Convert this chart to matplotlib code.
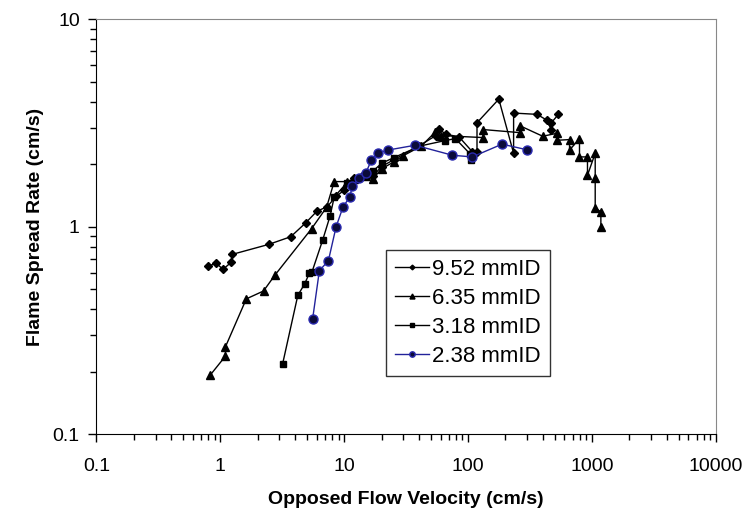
import numpy as np
import matplotlib.pyplot as plt
from matplotlib.ticker import LogLocator, NullFormatter, FixedLocator, FixedFormatter

plt.rcParams['font.family'] = ['Liberation Sans', 'DejaVu Sans']

# 9.52 mmID (diamonds)
v952 = [0.80, 0.93, 1.05, 1.22, 1.25, 2.46, 3.7, 4.9, 6.0, 7.3, 8.6, 10.0, 12.0, 14.5,
        17.0, 20.0, 25.0, 40.0, 55.0, 58.0, 66.0, 85.0, 108.0, 118.0, 118.0, 177.0,
        233.0, 233.0, 360.0, 430.0, 470.0, 470.0, 536.0]
s952 = [0.647, 0.666, 0.623, 0.673, 0.736, 0.822, 0.895, 1.045, 1.186, 1.25, 1.40, 1.50,
        1.72, 1.80, 1.75, 1.95, 2.10, 2.45, 2.75, 2.95, 2.80, 2.70, 2.30, 2.30, 3.17, 4.12,
        2.26, 3.53, 3.48, 3.27, 2.94, 3.17, 3.48]

# 6.35 mmID (triangles)
v635 = [0.83, 1.10, 1.10, 1.62, 2.23, 2.76, 5.46, 7.2, 8.3, 10.5, 12.0, 15.0, 17.0, 20.0,
        25.0, 30.0, 42.0, 54.0, 60.0, 132.0, 132.0, 264.0, 264.0, 400.0, 522.0, 522.0,
        659.0, 659.0, 793.0, 793.0, 920.0, 920.0, 1062.0, 1062.0, 1062.0, 1180.0, 1180.0]
s635 = [0.193, 0.238, 0.264, 0.449, 0.49, 0.585, 0.98, 1.24, 1.65, 1.65, 1.70, 1.75, 1.70,
        1.90, 2.05, 2.20, 2.45, 2.85, 2.75, 2.69, 2.94, 2.84, 3.06, 2.73, 2.82, 2.61, 2.63,
        2.34, 2.66, 2.17, 2.17, 1.77, 2.26, 1.71, 1.23, 1.18, 1.00]

# 3.18 mmID (squares)
v318 = [3.18, 4.22, 4.79, 5.23, 5.5, 6.7, 7.7, 8.3, 10.5, 12.5, 15.0, 17.0, 20.0, 25.0,
        41.0, 65.0, 79.0, 104.0, 106.0]
s318 = [0.218, 0.467, 0.53, 0.597, 0.607, 0.863, 1.13, 1.39, 1.63, 1.70, 1.80, 1.85, 2.02,
        2.15, 2.45, 2.60, 2.66, 2.24, 2.10]

# 2.38 mmID (circles)
v238 = [5.56, 6.3, 7.45, 8.6, 9.8, 11.1, 11.6, 13.1, 14.9, 16.6, 18.7, 22.4, 37.4, 74.8,
        108.0, 188.0, 298.0]
s238 = [0.36, 0.614, 0.686, 1.0, 1.25, 1.39, 1.57, 1.71, 1.81, 2.1, 2.26, 2.34, 2.47, 2.21,
        2.17, 2.5, 2.35]

fig = plt.figure(figsize=(7.48, 5.2), dpi=100)
ax = fig.add_axes([0.129, 0.165, 0.828, 0.798])

ax.plot(v952, s952, color='black', lw=1.0, marker='D', ms=4, label='9.52 mmID')
ax.plot(v635, s635, color='black', lw=1.0, marker='^', ms=6, label='6.35 mmID')
ax.plot(v318, s318, color='black', lw=1.0, marker='s', ms=5, label='3.18 mmID')
ax.plot(v238, s238, color='#22229a', lw=1.0, marker='o', ms=6.5,
        markerfacecolor='#0b0b3a', markeredgecolor='#2a2ab0', label='2.38 mmID')

ax.set_xscale('log')
ax.set_yscale('log')
ax.set_xlim(0.1, 10000)
ax.set_ylim(0.1, 10)

ax.xaxis.set_major_locator(FixedLocator([0.1, 1, 10, 100, 1000, 10000]))
ax.xaxis.set_major_formatter(FixedFormatter(['0.1', '1', '10', '100', '1000', '10000']))
ax.yaxis.set_major_locator(FixedLocator([0.1, 1, 10]))
ax.yaxis.set_major_formatter(FixedFormatter(['0.1', '1', '10']))
ax.xaxis.set_minor_locator(LogLocator(base=10, subs=np.arange(2, 10)))
ax.yaxis.set_minor_locator(LogLocator(base=10, subs=np.arange(2, 10)))
ax.xaxis.set_minor_formatter(NullFormatter())
ax.yaxis.set_minor_formatter(NullFormatter())

ax.tick_params(which='major', direction='out', length=6, width=1, labelsize=14)
ax.tick_params(axis='x', which='major', pad=11)
ax.tick_params(axis='y', which='major', pad=6)
ax.tick_params(which='minor', direction='out', length=4, width=1)
ax.tick_params(top=False, right=False)
for side in ['top', 'right']:
    ax.spines[side].set_color('#888888')

ax.set_xlabel('Opposed Flow Velocity (cm/s)', fontsize=14, fontweight='bold', labelpad=12)
ax.set_ylabel('Flame Spread Rate (cm/s)', fontsize=14, fontweight='bold', labelpad=6)

leg = ax.legend(loc='upper left', bbox_to_anchor=(0.468, 0.444), fontsize=16,
                frameon=True, fancybox=False, edgecolor='black', handlelength=1.5,
                handletextpad=0.15, borderpad=0.4, labelspacing=0.36, markerscale=0.6,
                borderaxespad=0)
leg.get_frame().set_linewidth(1.0)

fig.savefig('out.png', dpi=100)
